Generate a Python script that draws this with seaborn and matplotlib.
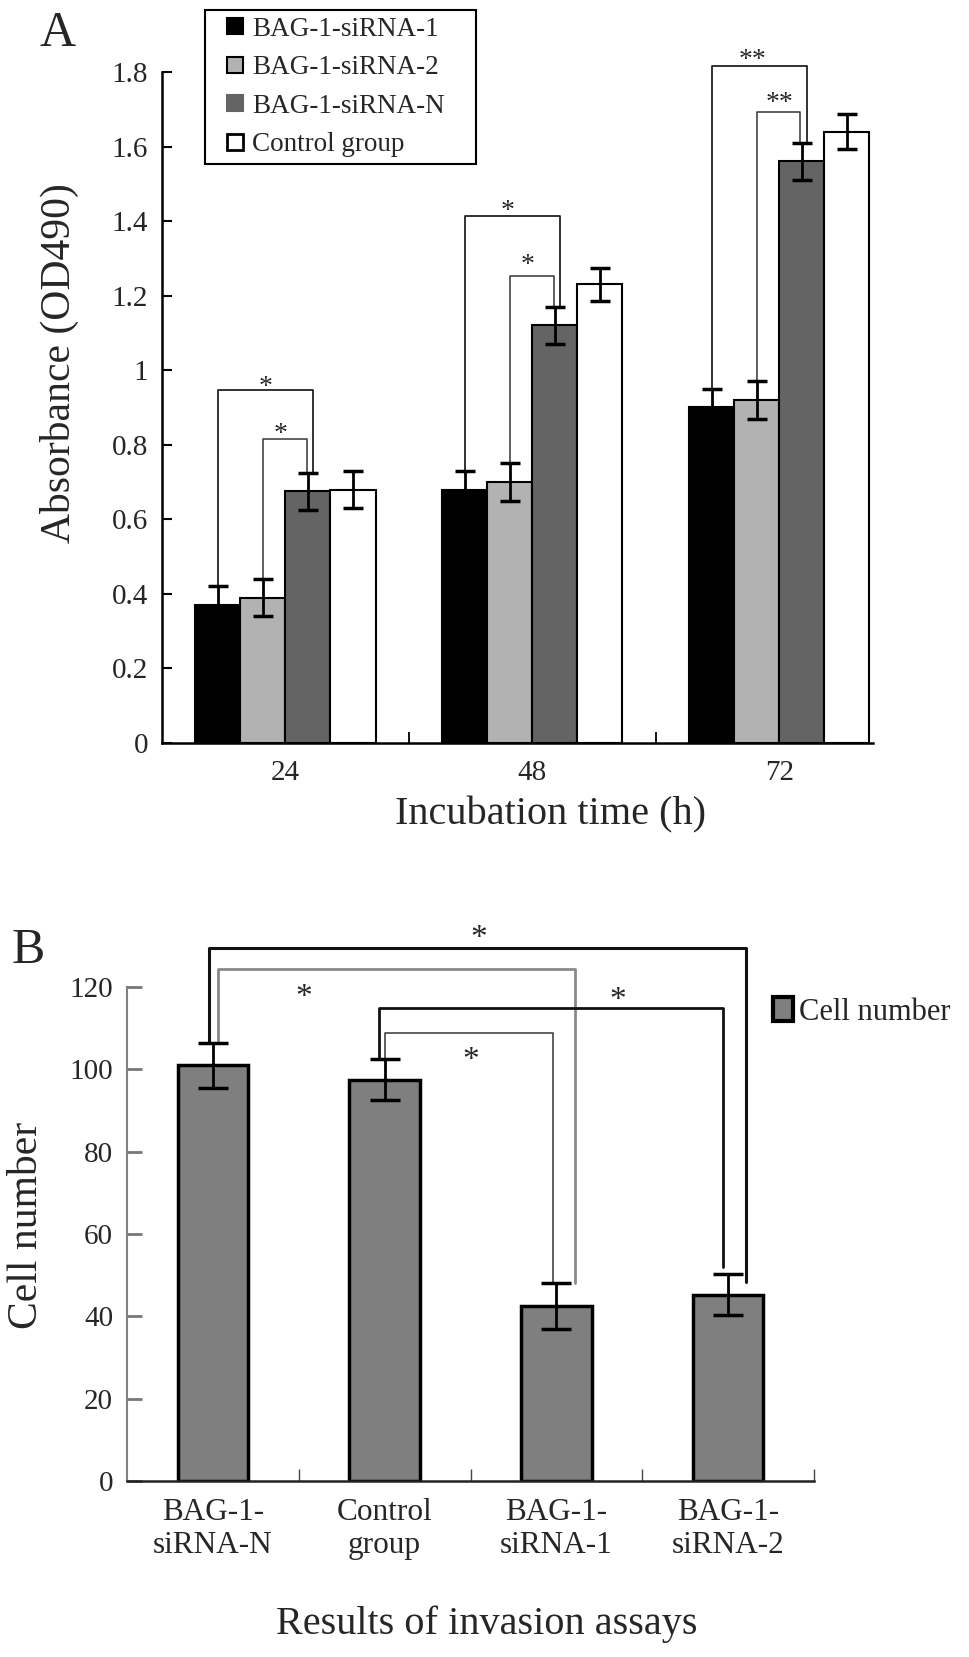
import matplotlib
matplotlib.use('Agg')
import matplotlib.pyplot as plt
import seaborn as sns
import pandas as pd
import numpy as np
from matplotlib.lines import Line2D
from matplotlib.patches import Patch

### data ###

# panel A: absorbance by incubation time
times = ['24', '48', '72']
groups = ['BAG-1-siRNA-1', 'BAG-1-siRNA-2', 'BAG-1-siRNA-N', 'Control group']
sirna1 = [0.37, 0.68, 0.90]
sirna2 = [0.39, 0.70, 0.92]
sirnaN = [0.675, 1.12, 1.56]
control = [0.68, 1.23, 1.64]
sirna1_err = [0.05, 0.05, 0.05]
sirna2_err = [0.05, 0.05, 0.05]
sirnaN_err = [0.05, 0.05, 0.05]
control_err = [0.05, 0.045, 0.047]
a_colors = ['#000000', '#b2b2b2', '#646464', '#ffffff']
a_yticks = [0, 0.2, 0.4, 0.6, 0.8, 1.0, 1.2, 1.4, 1.6, 1.8]
a_ytick_labels = ['0', '0.2', '0.4', '0.6', '0.8', '1', '1.2', '1.4', '1.6', '1.8']

# panel A significance: outer = siRNA-1 vs siRNA-N, inner = siRNA-2 vs siRNA-N
a_outer_h = [0.946, 1.415, 1.816]
a_inner_h = [0.815, 1.253, 1.693]
a_outer_star = ['*', '*', '**']
a_inner_star = ['*', '*', '**']
a_outer_star_xy = [(-0.08, 0.973), (-0.10, 1.445), (-0.11, 1.85)]
a_inner_star_xy = [(-0.02, 0.845), (-0.02, 1.298), (0.0, 1.733)]

# panel B: invasion assay cell numbers
b_groups = ['BAG-1-\nsiRNA-N', 'Control\ngroup', 'BAG-1-\nsiRNA-1', 'BAG-1-\nsiRNA-2']
b_cells = [101, 97.5, 42.5, 45.3]
b_err = [5.5, 5, 5.5, 5]
b_yticks = [0, 20, 40, 60, 80, 100, 120]

# panel B brackets: left bar, right bar, height, left shift, right shift, right leg end
b_br_left = [0, 0, 1, 1]
b_br_right = [3, 2, 3, 2]
b_br_h = [129.5, 124.3, 115.0, 108.9]
b_br_ldx = [-0.025, 0.03, -0.03, 0.005]
b_br_rdx = [0.106, 0.11, -0.03, -0.02]
b_br_end = [48.3, 48.0, 52.0, 48.3]
b_br_color = ['#111111', '#8a8a8a', '#111111', '#444444']
b_br_lw = [2.2, 2.0, 2.0, 1.2]
b_star_xy = [(1.55, 133.6), (0.53, 119.4), (2.36, 118.6), (1.50, 104.1)]

### figure ###

sns.set_style('ticks')
plt.rcParams['font.family'] = ['Liberation Serif', 'DejaVu Serif']

W, H = 969, 1657
fig = plt.figure(figsize=(W / 100, H / 100), dpi=100)


def px_axes(left, top, right, bottom):
    return fig.add_axes([left / W, 1 - bottom / H, (right - left) / W, (bottom - top) / H])


def star(ax, x, y, s, fs):
    # put the centre of the asterisk glyph at (x, y)
    ax.annotate(s, xy=(x, y), xytext=(0, -0.245 * fs), textcoords='offset points',
                ha='center', va='center', fontsize=fs, annotation_clip=False)


axa = px_axes(162, 72, 873, 743)
axb = px_axes(127, 987, 814, 1481)

# ---- panel A ----
df_a = pd.DataFrame({'time': times * 4,
                     'group': np.repeat(groups, 3),
                     'od': sirna1 + sirna2 + sirnaN + control})
sns.barplot(data=df_a, x='time', y='od', hue='group', hue_order=groups, palette=a_colors,
            saturation=1, width=0.73, gap=0, edgecolor='black', linewidth=1.5,
            errorbar=None, legend=False, ax=axa)

a_errs = [sirna1_err, sirna2_err, sirnaN_err, control_err]
bar_x = []
bar_top = []
for j, cont in enumerate(list(axa.containers)):
    xs = [b.get_x() + b.get_width() / 2 for b in cont]
    hs = [b.get_height() for b in cont]
    axa.errorbar(xs, hs, yerr=a_errs[j], fmt='none', ecolor='black', elinewidth=2,
                 capsize=7, capthick=2.5, zorder=4)
    bar_x.append(xs)
    bar_top.append([h + e for h, e in zip(hs, a_errs[j])])

for i in range(len(times)):
    xn = bar_x[2][i]
    axa.plot([bar_x[0][i], bar_x[0][i], xn + 0.02, xn + 0.02],
             [bar_top[0][i], a_outer_h[i], a_outer_h[i], bar_top[2][i]],
             color='#222222', lw=1.3, clip_on=False, zorder=3)
    axa.plot([bar_x[1][i], bar_x[1][i], xn - 0.005, xn - 0.005],
             [bar_top[1][i], a_inner_h[i], a_inner_h[i], bar_top[2][i]],
             color='#444444', lw=1.2, clip_on=False, zorder=3)
    star(axa, i + a_outer_star_xy[i][0], a_outer_star_xy[i][1], a_outer_star[i], 20)
    star(axa, i + a_inner_star_xy[i][0], a_inner_star_xy[i][1], a_inner_star[i], 20)

axa.set_xlim(-0.5, 2.38)
axa.set_ylim(0, 1.8)
axa.set_yticks(a_yticks)
axa.set_yticklabels(a_ytick_labels)
axa.set_xticks(range(len(times)))
axa.set_xticklabels(times)
axa.set_xticks([0.5, 1.5], minor=True)
axa.tick_params(axis='x', which='major', length=0, labelsize=21, pad=12)
axa.tick_params(axis='x', which='minor', direction='in', length=8, width=1.3, color='black')
axa.tick_params(axis='y', direction='in', length=7, width=1.5, labelsize=21, pad=10, color='black')
sns.despine(ax=axa)
for sp in ['left', 'bottom']:
    axa.spines[sp].set_linewidth(1.8)
    axa.spines[sp].set_color('black')

axa.set_ylabel('Absorbance (OD490)', fontsize=30)
axa.yaxis.set_label_coords(-0.1435, 0.566)
axa.yaxis.label.set_va('center')
axa.set_xlabel('Incubation time (h)', fontsize=29)
axa.xaxis.set_label_coords(0.546, -0.107)
axa.xaxis.label.set_va('center')

a_handles = [Line2D([], [], ls='none', marker='s', markersize=12, markerfacecolor=a_colors[k],
                    markeredgecolor=('#646464' if k == 2 else 'black'),
                    markeredgewidth=(1.5 if k < 3 else 2)) for k in range(4)]
axa.legend(a_handles, groups, loc='upper left', mode='expand',
           bbox_to_anchor=(205 / W, 1 - 173 / H, 271 / W, 163 / H), bbox_transform=fig.transFigure,
           fontsize=19.5, frameon=True, fancybox=False, framealpha=1, edgecolor='black',
           borderpad=0.25, labelspacing=0.5, handlelength=1.7, handletextpad=-0.2,
           borderaxespad=0).get_frame().set_linewidth(1.5)

# ---- panel B ----
df_b = pd.DataFrame({'group': b_groups, 'cells': b_cells})
sns.barplot(data=df_b, x='group', y='cells', color='#7f7f7f', saturation=1, width=0.41,
            edgecolor='black', linewidth=2.5, errorbar=None, ax=axb)

bx = [b.get_x() + b.get_width() / 2 for b in axb.containers[0]]
bh = [b.get_height() for b in axb.containers[0]]
axb.errorbar(bx, bh, yerr=b_err, fmt='none', ecolor='black', elinewidth=2,
             capsize=11, capthick=2.5, zorder=4)
b_top = [h + e for h, e in zip(bh, b_err)]

for k in range(len(b_br_h)):
    xl = bx[b_br_left[k]] + b_br_ldx[k]
    xr = bx[b_br_right[k]] + b_br_rdx[k]
    axb.plot([xl, xl, xr, xr], [b_top[b_br_left[k]], b_br_h[k], b_br_h[k], b_br_end[k]],
             color=b_br_color[k], lw=b_br_lw[k], clip_on=False, zorder=3)
for x, y in b_star_xy:
    star(axb, x, y, '*', 24)

axb.set_xlim(-0.5, 3.5)
axb.set_ylim(0, 120)
axb.set_yticks(b_yticks)
axb.set_xticks([0.5, 1.5, 2.5, 3.5], minor=True)
axb.tick_params(axis='x', which='major', length=0, labelsize=22.5, pad=12)
axb.tick_params(axis='x', which='minor', direction='in', length=9, width=1, color='#444444')
axb.tick_params(axis='y', direction='in', length=11, width=2, color='#777777',
                labelsize=21, pad=10)
sns.despine(ax=axb)
axb.spines['left'].set_color('#808080')
axb.spines['left'].set_linewidth(1.5)
axb.spines['bottom'].set_color('#222222')
axb.spines['bottom'].set_linewidth(1.8)

axb.set_ylabel('Cell number', fontsize=30)
axb.yaxis.set_label_coords(-0.1456, 0.518)
axb.yaxis.label.set_va('center')
axb.set_xlabel('Results of invasion assays', fontsize=29)
axb.xaxis.set_label_coords(0.524, -0.289)
axb.xaxis.label.set_va('center')

axb.legend([Patch(facecolor='#7f7f7f', edgecolor='black', linewidth=3)], ['Cell number'],
           loc='center left', bbox_to_anchor=(773 / W, 1 - 1012 / H), bbox_transform=fig.transFigure,
           fontsize=22, frameon=False, borderpad=0, borderaxespad=0,
           handlelength=0.65, handleheight=0.8, handletextpad=0.2)

# panel letters
fig.text(58 / W, 1 - 34 / H, 'A', fontsize=36, ha='center', va='center')
fig.text(28 / W, 1 - 951 / H, 'B', fontsize=36, ha='center', va='center')

fig.savefig('out.png', dpi=100)
